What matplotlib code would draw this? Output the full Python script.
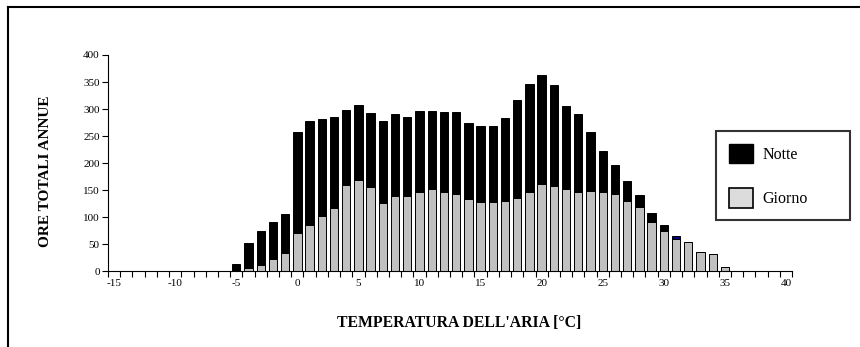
import matplotlib

matplotlib.use('Agg')
import matplotlib.pyplot as plt
from matplotlib.lines import Line2D
from matplotlib.patches import Patch

# Dati: ore annue per temperatura dell'aria (giorno + notte)
temperature = list(range(-5, 36))
giorno = [0, 5, 12, 22, 33, 70, 86, 101, 117, 159, 169, 156, 126, 139, 139,
          147, 152, 146, 142, 133, 128, 128, 130, 135, 146, 161, 158, 152,
          147, 148, 146, 142, 130, 118, 91, 75, 60, 54, 35, 31, 7]
totale = [13, 51, 75, 91, 105, 257, 278, 282, 285, 298, 307, 293, 277, 290, 285,
          296, 296, 294, 294, 274, 269, 269, 283, 317, 347, 363, 344, 306,
          290, 258, 222, 196, 167, 141, 108, 86, 65, 54, 35, 31, 7]
notte = [t - g for t, g in zip(totale, giorno)]

plt.rcParams['font.family'] = ['Liberation Serif', 'DejaVu Serif']
plt.rcParams['axes.unicode_minus'] = False

fig = plt.figure(figsize=(8.6, 3.47), dpi=100)
ax = fig.add_axes([0.1256, 0.219, 0.7954, 0.6225])

# la barra a 31 °C ha la parte notturna blu nell'originale
colori_notte = ['#000080' if t == 31 else 'black' for t in temperature]

ax.bar(temperature, giorno, width=0.68, color='#c0c0c0', edgecolor='black', linewidth=0.7)
ax.bar(temperature, notte, bottom=giorno, width=0.68, color=colori_notte,
       edgecolor='black', linewidth=0.7)

ax.set_xlim(-15.5, 40.5)
ax.set_ylim(0, 400)
ax.set_yticks(range(0, 401, 50))
ax.set_xticks(range(-15, 41, 5))
ax.set_xticks([x + 0.5 for x in range(-16, 41)], minor=True)
ax.tick_params(axis='x', which='major', length=0, labelsize=8, pad=6)
ax.tick_params(axis='x', which='minor', length=4, width=0.8, direction='out')
ax.tick_params(axis='y', length=4, width=0.8, labelsize=8, pad=2)

for s in ['top', 'right']:
    ax.spines[s].set_visible(False)
ax.spines['left'].set_linewidth(0.8)
ax.spines['bottom'].set_linewidth(0.8)

ax.set_ylabel('ORE TOTALI ANNUE', fontweight='bold', fontsize=11)
ax.set_xlabel("TEMPERATURA DELL'ARIA [°C]", fontweight='bold', fontsize=11.3)
ax.yaxis.set_label_coords(-0.082, 0.463)
ax.xaxis.set_label_coords(0.513, -0.205)

handles = [Patch(facecolor='black', edgecolor='black', label='Notte'),
           Patch(facecolor='#dcdcdc', edgecolor='black', linewidth=1.2, label='Giorno')]
leg = fig.legend(handles=handles, loc='upper left', bbox_to_anchor=(0.8326, 0.622, 0.156, 0.0),
                 mode='expand', frameon=True, fancybox=False, fontsize=11.5,
                 handlelength=1.5, handleheight=1.5, labelspacing=1.55, borderpad=0.8,
                 handletextpad=0.6, borderaxespad=0)
leg.get_frame().set_edgecolor('black')
leg.get_frame().set_linewidth(1.5)

# bordo del riquadro (solo lato superiore e sinistro)
fig.add_artist(Line2D([0.009, 1.0], [0.98, 0.98], color='black', linewidth=1.5,
                      transform=fig.transFigure))
fig.add_artist(Line2D([0.009, 0.009], [0.0, 0.98], color='black', linewidth=1.5,
                      transform=fig.transFigure))

fig.savefig('out.png', dpi=100)
